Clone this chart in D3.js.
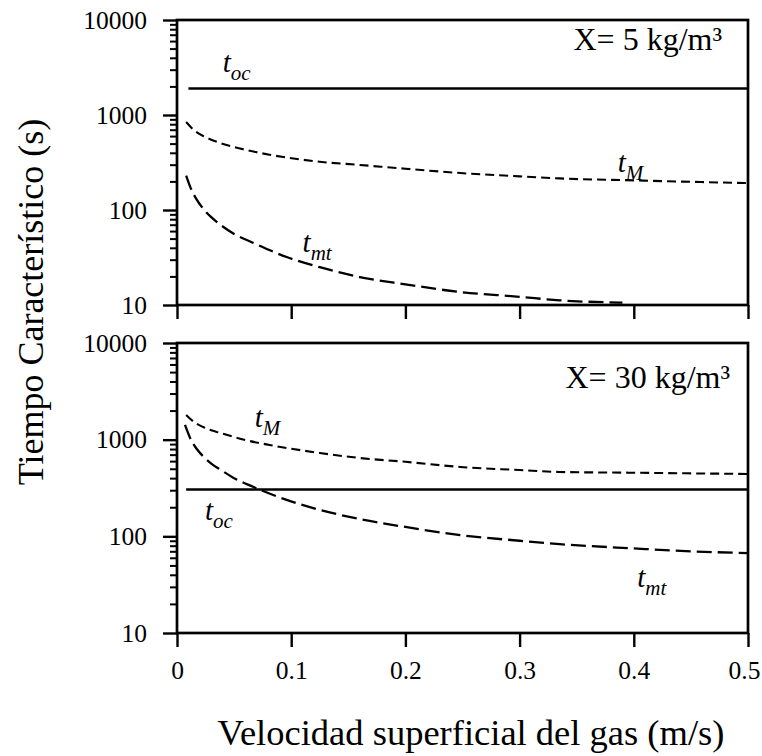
<!DOCTYPE html>
<html>
<head>
<meta charset="utf-8">
<script src="https://cdn.jsdelivr.net/npm/d3@7"></script>
<style>
  html, body { margin: 0; padding: 0; background: #fff; }
  svg { display: block; }
</style>
</head>
<body>
<svg id="chart" width="762" height="756"></svg>
<script>
// ---- data ----
const xTicks = [0, 0.1, 0.2, 0.3, 0.4, 0.5];
const yMajorTicks = [10, 100, 1000, 10000];

// Panel 1: X = 5 kg/m3
const top_toc_x = [0.01, 0.5];
const top_toc_y = [1900, 1900];
const top_tM_x = [0.008, 0.015, 0.023, 0.03, 0.038, 0.06, 0.081, 0.125, 0.16, 0.2, 0.248, 0.3, 0.335, 0.4, 0.45, 0.5];
const top_tM_y = [843, 690, 600, 550, 507, 430, 382, 322, 298, 272, 245, 226, 215, 205, 198, 192];
const top_tmt_x = [0.008, 0.012, 0.017, 0.023, 0.03, 0.038, 0.05, 0.067, 0.096, 0.125, 0.16, 0.2, 0.248, 0.3, 0.335, 0.39];
const top_tmt_y = [230, 170, 130, 103, 84, 70, 56, 45, 32, 25, 19.7, 16.5, 13.7, 12.2, 11.2, 10.6];

// Panel 2: X = 30 kg/m3
const bot_toc_x = [0.008, 0.5];
const bot_toc_y = [305, 305];
const bot_tM_x = [0.008, 0.015, 0.023, 0.03, 0.038, 0.06, 0.081, 0.125, 0.16, 0.2, 0.248, 0.3, 0.335, 0.4, 0.45, 0.5];
const bot_tM_y = [1800, 1520, 1350, 1250, 1172, 990, 881, 728, 646, 590, 522, 485, 463, 455, 448, 442];
const bot_tmt_x = [0.007, 0.012, 0.017, 0.023, 0.03, 0.038, 0.05, 0.067, 0.096, 0.125, 0.16, 0.2, 0.248, 0.3, 0.335, 0.4, 0.45, 0.5];
const bot_tmt_y = [1420, 1010, 810, 670, 565, 490, 400, 324, 238, 188, 151, 125, 103, 90, 83, 75, 70, 67];

const panelTitles = ["X= 5 kg/m³", "X= 30 kg/m³"];
const xTitle = "Velocidad superficial del gas (m/s)";
const yTitle = "Tiempo Característico  (s)";

// ---- drawing ----
const FONT = '"Liberation Serif", "Times New Roman", Times, "DejaVu Serif", serif';
const svg = d3.select("#chart");
svg.append("rect").attr("width", 762).attr("height", 756).attr("fill", "#fff");

const x = d3.scaleLinear().domain([0, 0.5]).range([177, 748]);
const panels = [
  { y: d3.scaleLog().domain([10, 10000]).range([305, 20]), labels: false,
    toc: [top_toc_x, top_toc_y], tM: [top_tM_x, top_tM_y], tmt: [top_tmt_x, top_tmt_y],
    title: panelTitles[0], titlePos: [722, 50],
    lab: { oc: [0.040, 2840], M: [0.386, 251], mt: [0.110, 36] } },
  { y: d3.scaleLog().domain([10, 10000]).range([633, 343]), labels: true,
    toc: [bot_toc_x, bot_toc_y], tM: [bot_tM_x, bot_tM_y], tmt: [bot_tmt_x, bot_tmt_y],
    title: panelTitles[1], titlePos: [730, 388],
    lab: { oc: [0.0245, 148], M: [0.068, 1352], mt: [0.403, 30] } }
];

const minorTicks = [];
for (let d = 10; d < 10000; d *= 10) for (let k = 2; k <= 9; k++) minorTicks.push(k * d);

const zip = (a, b) => a.map((v, i) => [v, b[i]]);

panels.forEach(p => {
  const y = p.y;
  const g = svg.append("g");

  // minor y ticks
  const minorAxis = d3.axisLeft(y).tickValues(minorTicks).tickSize(7).tickFormat("");
  const gm = g.append("g").attr("transform", `translate(${x(0)},0)`).call(minorAxis);
  gm.select(".domain").remove();
  gm.selectAll("line").attr("stroke", "#000").attr("stroke-width", 2);

  // major y ticks
  const majorAxis = d3.axisLeft(y).tickValues(yMajorTicks).tickSize(14).tickPadding(16)
    .tickFormat(d => String(d));
  const gM = g.append("g").attr("transform", `translate(${x(0)},0)`).call(majorAxis);
  gM.attr("font-family", null).attr("font-size", null);
  gM.select(".domain").remove();
  gM.selectAll("line").attr("stroke", "#000").attr("stroke-width", 2.4);
  gM.selectAll("text").style("font-family", FONT).style("font-size", "25.5px").attr("fill", "#000");

  // x ticks
  const xAxis = d3.axisBottom(x).tickValues(xTicks).tickSize(14).tickPadding(14)
    .tickFormat(p.labels ? (d => d === 0 ? "0" : d.toFixed(1)) : "");
  const gx = g.append("g").attr("transform", `translate(0,${y.range()[0]})`).call(xAxis);
  gx.attr("font-family", null).attr("font-size", null);
  gx.select(".domain").remove();
  gx.selectAll("line").attr("stroke", "#000").attr("stroke-width", 2.4);
  gx.selectAll("text").style("font-family", FONT).style("font-size", "25.5px").attr("fill", "#000")
    .attr("dx", d => d === 0.5 ? -4 : 0);

  // frame
  g.append("rect")
    .attr("x", x(0)).attr("y", y.range()[1])
    .attr("width", x(0.5) - x(0)).attr("height", y.range()[0] - y.range()[1])
    .attr("fill", "none").attr("stroke", "#000").attr("stroke-width", 2.7);

  const line = d3.line().x(d => x(d[0])).y(d => y(d[1])).curve(d3.curveMonotoneX);

  g.append("path").datum(zip(...p.toc)).attr("d", line)
    .attr("fill", "none").attr("stroke", "#000").attr("stroke-width", 2.6);
  g.append("path").datum(zip(...p.tM)).attr("d", line)
    .attr("fill", "none").attr("stroke", "#000").attr("stroke-width", 2.1)
    .attr("stroke-dasharray", "9,5");
  g.append("path").datum(zip(...p.tmt)).attr("d", line)
    .attr("fill", "none").attr("stroke", "#000").attr("stroke-width", 2.3)
    .attr("stroke-dasharray", "15,6");

  // curve labels
  const addLabel = (pos, sub) => {
    const t = g.append("text").attr("x", x(pos[0])).attr("y", y(pos[1]))
      .style("font-family", FONT).style("font-style", "italic").style("font-size", "29px");
    t.append("tspan").text("t");
    t.append("tspan").style("font-size", "21px").attr("dy", 8).text(sub);
  };
  addLabel(p.lab.oc, "oc");
  addLabel(p.lab.M, "M");
  addLabel(p.lab.mt, "mt");

  g.append("text").attr("x", p.titlePos[0]).attr("y", p.titlePos[1])
    .attr("text-anchor", "end")
    .style("font-family", FONT).style("font-size", "32px")
    .text(p.title);
});

// axis titles
svg.append("text").attr("x", 471).attr("y", 745).attr("text-anchor", "middle")
  .style("font-family", FONT).style("font-size", "36.5px").text(xTitle);
svg.append("text").attr("transform", "translate(43,302) rotate(-90)")
  .attr("text-anchor", "middle")
  .style("font-family", FONT).style("font-size", "36px").text(yTitle);
</script>
</body>
</html>
